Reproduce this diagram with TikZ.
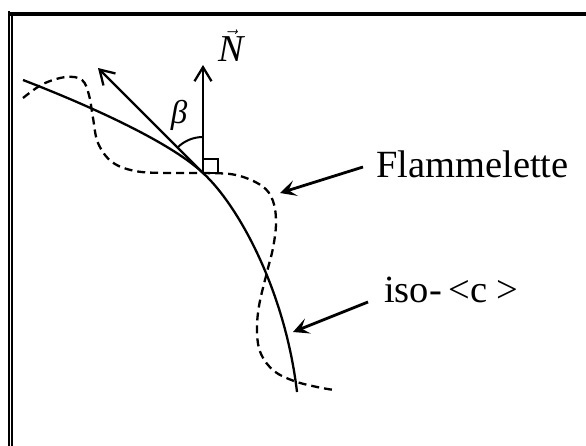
\documentclass[tikz,border=0pt]{standalone}
\usepackage{fontspec}
\setmainfont{Liberation Serif}
\usetikzlibrary{positioning, calc, arrows.meta}

\begin{document}
\begin{tikzpicture}[x=1pt, y=-1pt, line width=2.3pt,
  every node/.style={inner sep=0pt},
  lab/.style={font=\fontsize{38.5}{42}\selectfont},
  vecarrow/.style={-{Straight Barb[length=14pt,width=17pt]}},
  pointer/.style={line width=2.8pt, -{Stealth[length=16pt,width=16pt,inset=7pt]}}]

\useasboundingbox (0,0) rectangle (586,446);

% frame: heavy top edge, double left edge
\draw[line width=4pt] (10,14) -- (586,14);
\draw[line width=2pt] (9,11) -- (9,446);
\draw[line width=1.7pt] (11.8,15) -- (11.8,446);

\coordinate (P)    at (203,173);
\coordinate (Ntip) at (203,65);
\coordinate (btip) at (98,68);

% iso-<c> surface (solid)
\draw (23,80) .. controls (80,102) and (168,140) .. (P)
      .. controls (238,205) and (285,290) .. (297,392);

% flamelet (dashed)
\draw[dashed, dash pattern=on 8pt off 5pt] plot[smooth, tension=0.6] coordinates {(23,98) (43,84) (66,77) (82,80) (89,95) (93,118) (98,143) (112,162) (135,171) (165,173) (P) (236,175) (262,186) (273,201) (276,223) (273,248) (267,272) (259,306) (257,333) (261,354) (274,371) (294,381) (317,387) (334,390)};

% normal vector and tilted vector
\draw[vecarrow] (P) -- (Ntip);
\draw[vecarrow] (P) -- (btip);

% right angle mark and angle beta
\draw[line width=1.7pt] (P) rectangle ++(15,-14);
\draw[line width=2pt] (P) ++(-135:36) arc[start angle=-135, end angle=-90, radius=36];

\node[font=\fontsize{38}{42}\selectfont] (labN) at (231,46) {$\vec{\textit{N}}$};
\node[font=\fontsize{33}{36}\selectfont] (labbeta) at (179,115) {\textit{β}};

\node[lab, anchor=base west] (flam) at (375,178) {Flammelette};
\node[lab, anchor=base west] (iso)  at (383,302) {iso-\,<c >};

\coordinate (flamtip) at (280,193);
\coordinate (isotip)  at (293,332);
\draw[pointer] ([xshift=-12pt,yshift=11pt]flam.base west) -- (flamtip);
\draw[pointer] ([xshift=-15pt]iso.base west) -- (isotip);

\end{tikzpicture}
\end{document}
